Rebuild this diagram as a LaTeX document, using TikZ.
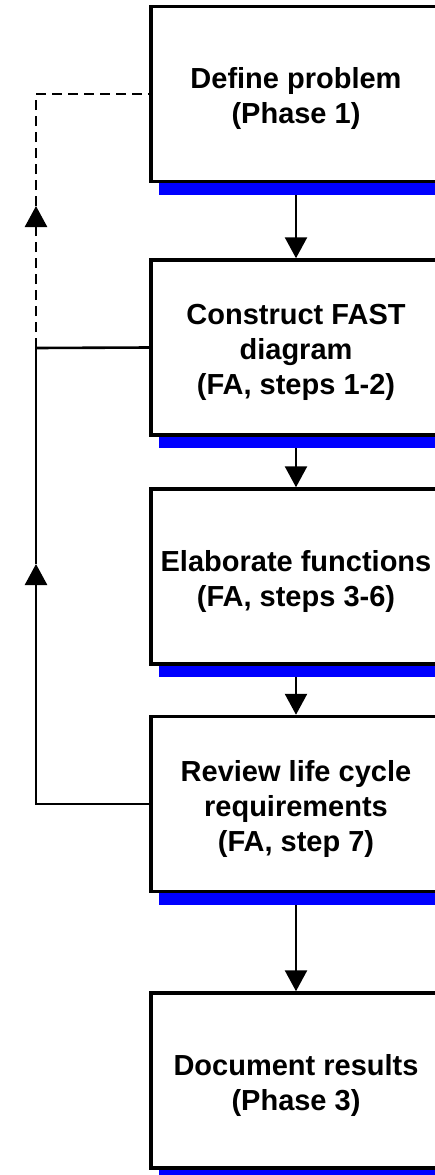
\documentclass[tikz,border=0pt]{standalone}
\usepackage{fontspec}
\setmainfont{Liberation Sans}
\usetikzlibrary{arrows.meta,shadows,backgrounds}
\begin{document}
\begin{tikzpicture}[x=1pt,y=-1pt,
  stepbox/.style={draw=black,line width=3.5pt,fill=white,minimum width=290pt,minimum height=175pt,
    inner sep=0pt,
    drop shadow={shadow xshift=8pt,shadow yshift=-13pt,fill=blue,opacity=1}},
  steptext/.style={align=center,font=\fontsize{29}{35}\selectfont\bfseries,yshift=-5pt},
  conn/.style={draw=black,line width=2.6pt},
  dashconn/.style={conn,dash pattern=on 10pt off 6pt},
  tri/.style={-{Triangle[width=22pt,length=21pt]}}
]
\useasboundingbox (0,0) rectangle (434,1175);
\node[stepbox,label={[steptext]center:{Define problem\\(Phase 1)}}] (b1) at (296,94) {};
\node[stepbox,label={[steptext]center:{Construct FAST\\diagram\\(FA, steps 1-2)}}] (b2) at (296,347.5) {};
\node[stepbox,label={[steptext]center:{Elaborate functions\\(FA, steps 3-6)}}] (b3) at (296,576.5) {};
\node[stepbox,label={[steptext]center:{Review life cycle\\requirements\\(FA, step 7)}}] (b4) at (296,804) {};
\node[stepbox,label={[steptext]center:{Document results\\(Phase 3)}}] (b5) at (296,1080.5) {};
\coordinate (L1) at (36,94);
\coordinate (L2) at (36,348);
\coordinate (L4) at (36,804);
\coordinate (T1) at (36,206);
\coordinate (T2) at (36,564);
\begin{pgfonlayer}{background}
\draw[conn,tri] (b1.south) -- (b2.north);
\draw[conn,tri] (b2.south) -- (b3.north);
\draw[conn,tri] (b3.south) -- (b4.north);
\draw[conn,tri] (b4.south) -- (b5.north);
\draw[conn] (b2.west) -- (L2);
\draw[conn,tri] (b4.west) -- (L4) -- (T2);
\draw[conn] (T2) -- (L2);
\draw[dashconn,tri] (L2) -- (T1);
\draw[dashconn] (T1) -- (L1) -- (b1.west);
\end{pgfonlayer}
\end{tikzpicture}
\end{document}
